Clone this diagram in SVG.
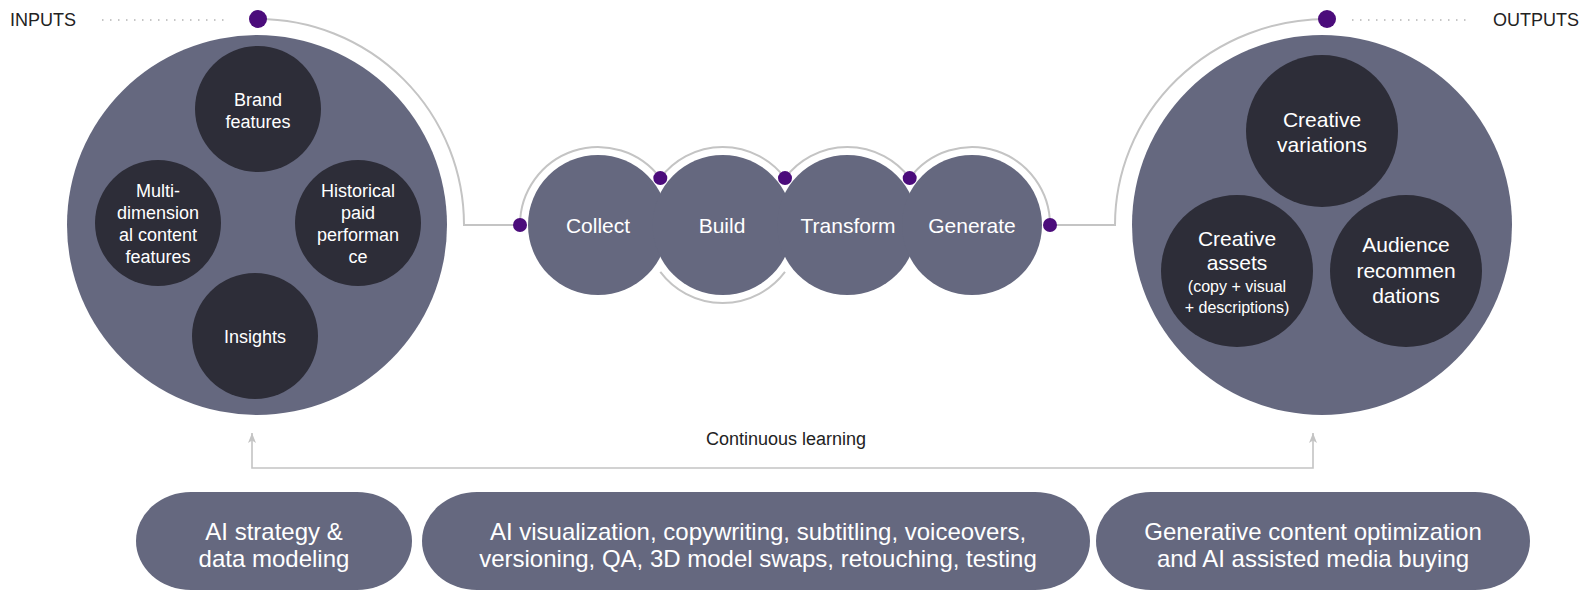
<svg xmlns="http://www.w3.org/2000/svg" width="1584" height="591" viewBox="0 0 1584 591">
  <defs>
    <style>
      .hub { fill: #65687f; }
      .item { fill: #2d2d38; }
      .pill { fill: #65687f; }
      .dot { fill: #4b0c7b; }
      .wire { fill: none; stroke: #c4c4c4; stroke-width: 2; }
      .dots { fill: none; stroke: #b4b4b4; stroke-width: 1.5; stroke-dasharray: 1.5 6.5; }
      .loop { fill: none; stroke: #c4c4c4; stroke-width: 1.6; }
      .lbl { font-family: "Liberation Sans", Arial, sans-serif; fill: #ffffff; text-anchor: middle; }
      .s18 { font-size: 18px; }
      .s21 { font-size: 21px; }
      .s16 { font-size: 16px; }
      .s24 { font-size: 24px; }
      .cap { font-family: "Liberation Sans", Arial, sans-serif; font-size: 18px; fill: #222222; }
    </style>
    <marker id="arrowUp" viewBox="0 0 10 8" refX="10" refY="4" markerWidth="10" markerHeight="8" markerUnits="userSpaceOnUse" orient="auto-start-reverse">
      <path d="M0,0 L10,4 L0,8 L2.5,4 Z" fill="#c4c4c4"/>
    </marker>
  </defs>

  <!-- Section captions -->
  <g id="inputs-label">
    <text class="cap" x="10" y="26">INPUTS</text>
    <line class="dots" x1="102" y1="20" x2="226" y2="20"/>
  </g>
  <g id="outputs-label">
    <text class="cap" x="1579" y="26" text-anchor="end">OUTPUTS</text>
    <line class="dots" x1="1352" y1="20" x2="1470" y2="20"/>
  </g>

  <!-- Inputs hub -->
  <g id="inputs">
    <circle class="hub" cx="257" cy="225" r="190"/>
    <g id="brand-features">
      <circle class="item" cx="258" cy="109" r="63"/>
      <text class="lbl s18" x="258" y="106">Brand</text>
      <text class="lbl s18" x="258" y="128">features</text>
    </g>
    <g id="content-features">
      <circle class="item" cx="158" cy="223" r="63"/>
      <text class="lbl s18" x="158" y="197">Multi-</text>
      <text class="lbl s18" x="158" y="219">dimension</text>
      <text class="lbl s18" x="158" y="241">al content</text>
      <text class="lbl s18" x="158" y="263">features</text>
    </g>
    <g id="paid-performance">
      <circle class="item" cx="358" cy="223" r="63"/>
      <text class="lbl s18" x="358" y="197">Historical</text>
      <text class="lbl s18" x="358" y="219">paid</text>
      <text class="lbl s18" x="358" y="241">performan</text>
      <text class="lbl s18" x="358" y="263">ce</text>
    </g>
    <g id="insights">
      <circle class="item" cx="255" cy="336" r="63"/>
      <text class="lbl s18" x="255" y="343">Insights</text>
    </g>
  </g>

  <!-- Outputs hub -->
  <g id="outputs">
    <circle class="hub" cx="1322" cy="225" r="190"/>
    <g id="creative-variations">
      <circle class="item" cx="1322" cy="131" r="76"/>
      <text class="lbl s21" x="1322" y="127">Creative</text>
      <text class="lbl s21" x="1322" y="152">variations</text>
    </g>
    <g id="creative-assets">
      <circle class="item" cx="1237" cy="271" r="76"/>
      <text class="lbl s21" x="1237" y="246">Creative</text>
      <text class="lbl s21" x="1237" y="270">assets</text>
      <text class="lbl s16" x="1237" y="292">(copy + visual</text>
      <text class="lbl s16" x="1237" y="313">+ descriptions)</text>
    </g>
    <g id="audience-recommendations">
      <circle class="item" cx="1406" cy="271" r="76"/>
      <text class="lbl s21" x="1406" y="252">Audience</text>
      <text class="lbl s21" x="1406" y="278">recommen</text>
      <text class="lbl s21" x="1406" y="303">dations</text>
    </g>
  </g>

  <!-- Pipeline stages -->
  <g id="collect">
    <circle class="hub" cx="598" cy="225" r="70"/>
    <text class="lbl s21" x="598" y="233">Collect</text>
  </g>
  <g id="build">
    <circle class="hub" cx="722.7" cy="225" r="70"/>
    <text class="lbl s21" x="722" y="233">Build</text>
  </g>
  <g id="transform">
    <circle class="hub" cx="847.3" cy="225" r="70"/>
    <text class="lbl s21" x="848" y="233">Transform</text>
  </g>
  <g id="generate">
    <circle class="hub" cx="972" cy="225" r="70"/>
    <text class="lbl s21" x="972" y="233">Generate</text>
  </g>

  <!-- Capability bands -->
  <g id="strategy">
    <path class="pill" d="M191,492 H357 A55 49 0 0 1 357,590 H191 A55 49 0 0 1 191,492 Z"/>
    <text class="lbl s24" x="274" y="540">AI strategy &amp;</text>
    <text class="lbl s24" x="274" y="567">data modeling</text>
  </g>
  <g id="production">
    <path class="pill" d="M477,492 H1035 A55 49 0 0 1 1035,590 H477 A55 49 0 0 1 477,492 Z"/>
    <text class="lbl s24" x="758" y="540">AI visualization, copywriting, subtitling, voiceovers,</text>
    <text class="lbl s24" x="758" y="567">versioning, QA, 3D model swaps, retouching, testing</text>
  </g>
  <g id="optimization">
    <path class="pill" d="M1151,492 H1475 A55 49 0 0 1 1475,590 H1151 A55 49 0 0 1 1151,492 Z"/>
    <text class="lbl s24" x="1313" y="540">Generative content optimization</text>
    <text class="lbl s24" x="1313" y="567">and AI assisted media buying</text>
  </g>

  <!-- Connectors -->
  <g id="connectors">
    <path class="wire" d="M258,19 A206 206 0 0 1 464,225 H520"/>
    <path class="wire" d="M1327,19 A212 206 0 0 0 1115,225 H1050"/>
    <path class="wire" d="M520,225 A78 78 0 0 1 660.3,178.1"/>
    <path class="wire" d="M660.3,178.1 A78 78 0 0 1 785,178.1"/>
    <path class="wire" d="M785,178.1 A78 78 0 0 1 909.7,178.1"/>
    <path class="wire" d="M909.7,178.1 A78 78 0 0 1 1050,225"/>
    <path class="wire" d="M660.3,271.9 A78 78 0 0 0 785,271.9"/>
    <path class="loop" d="M252,433 V468 H1313 V433" marker-start="url(#arrowUp)" marker-end="url(#arrowUp)"/>
    <text class="cap" x="786" y="445" text-anchor="middle" font-size="17">Continuous learning</text>
    <circle class="dot" cx="258" cy="19" r="9"/>
    <circle class="dot" cx="1327" cy="19" r="9"/>
    <circle class="dot" cx="520" cy="225" r="7"/>
    <circle class="dot" cx="660.3" cy="178.1" r="7"/>
    <circle class="dot" cx="785" cy="178.1" r="7"/>
    <circle class="dot" cx="909.7" cy="178.1" r="7"/>
    <circle class="dot" cx="1050" cy="225" r="7"/>
  </g>
</svg>
